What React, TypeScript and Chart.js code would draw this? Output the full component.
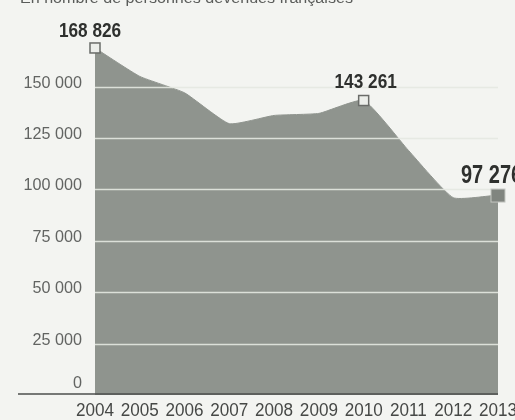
import React, { useEffect, useRef } from "react";
import { Chart, registerables } from "chart.js";

Chart.register(...registerables);

const title = "En nombre de personnes devenues françaises";
const years = ["2004", "2005", "2006", "2007", "2008", "2009", "2010", "2011", "2012", "2013"];
const naturalisations = [168826, 155000, 147000, 132000, 136000, 137000, 143261, 119000, 96000, 97276];
const yTicks = [0, 25000, 50000, 75000, 100000, 125000, 150000];
const yTickLabels = ["0", "25 000", "50 000", "75 000", "100 000", "125 000", "150 000"];
const calloutIndices = [0, 6, 9];
const calloutLabels = ["168 826", "143 261", "97 276"];

const REGULAR = '"Liberation Sans", Arial, sans-serif';

function condensedText(ctx: any, text: string, x: number, y: number, align: string, sx: number) {
  ctx.save();
  ctx.translate(x, y);
  ctx.scale(sx, 1);
  ctx.textAlign = align;
  ctx.fillText(text, 0, 0);
  ctx.restore();
}

const decorPlugin = {
  id: "decor",
  beforeDraw(chart: any) {
    const { ctx, width, height } = chart;
    ctx.save();
    ctx.fillStyle = "#f3f4f1";
    ctx.fillRect(0, 0, width, height);
    ctx.restore();
  },
  afterDatasetsDraw(chart: any) {
    const { ctx, chartArea } = chart;
    const xs = chart.scales.x;
    const ys = chart.scales.y;
    ctx.save();

    // gridlines over the area
    ctx.strokeStyle = "rgba(228,232,225,0.9)";
    ctx.lineWidth = 1.5;
    yTicks.forEach((v) => {
      if (v === 0) return;
      const y = Math.round(ys.getPixelForValue(v)) + 0.5;
      ctx.beginPath();
      ctx.moveTo(chartArea.left, y);
      ctx.lineTo(chartArea.right, y);
      ctx.stroke();
    });

    // baseline
    const y0 = ys.getPixelForValue(0) - 1;
    ctx.strokeStyle = "#4d4f4c";
    ctx.lineWidth = 1.6;
    ctx.beginPath();
    ctx.moveTo(18, y0);
    ctx.lineTo(chartArea.right, y0);
    ctx.stroke();

    // y labels
    ctx.font = "17px " + REGULAR;
    ctx.fillStyle = "#626462";
    ctx.textBaseline = "alphabetic";
    yTicks.forEach((v, i) => {
      const y = ys.getPixelForValue(v);
      condensedText(ctx, yTickLabels[i], 82, v === 0 ? y - 7 : y + 1, "right", 0.95);
    });

    // x labels
    ctx.font = "18px " + REGULAR;
    ctx.fillStyle = "#464846";
    years.forEach((yr, i) => {
      condensedText(ctx, yr, xs.getPixelForValue(i), 416, "center", 0.95);
    });

    // markers
    calloutIndices.forEach((idx, k) => {
      const px = xs.getPixelForValue(idx);
      const py = ys.getPixelForValue(naturalisations[idx]);
      if (k < 2) {
        ctx.fillStyle = "#eceeea";
        ctx.strokeStyle = "#6a6c69";
        ctx.lineWidth = 1.5;
        ctx.fillRect(px - 5, py - 5, 10, 10);
        ctx.strokeRect(px - 5, py - 5, 10, 10);
      } else {
        ctx.fillStyle = "#80857f";
        ctx.strokeStyle = "#c4c7c2";
        ctx.lineWidth = 1;
        ctx.fillRect(px - 7, py - 6, 14, 13);
        ctx.strokeRect(px - 7, py - 6, 14, 13);
      }
    });

    // callout labels
    ctx.fillStyle = "#2e302e";
    calloutIndices.forEach((idx, k) => {
      const px = xs.getPixelForValue(idx);
      const py = ys.getPixelForValue(naturalisations[idx]);
      if (k === 0) {
        ctx.font = "bold 21px " + REGULAR;
        condensedText(ctx, calloutLabels[k], px - 5, py - 11, "center", 0.82);
      } else if (k === 1) {
        ctx.font = "bold 21px " + REGULAR;
        condensedText(ctx, calloutLabels[k], px + 2, py - 13, "center", 0.82);
      } else {
        ctx.font = "bold 25px " + REGULAR;
        condensedText(ctx, calloutLabels[k], px - 37, py - 12, "left", 0.8);
      }
    });

    // title (cut off by top edge)
    ctx.font = "14px " + REGULAR;
    ctx.fillStyle = "#5a5c5a";
    condensedText(ctx, title, 20, 3, "left", 1.15);

    ctx.restore();
  },
};

export default function App() {
  const ref = useRef<HTMLCanvasElement | null>(null);

  useEffect(() => {
    if (!ref.current) return;
    const chart = new Chart(ref.current, {
      type: "line",
      data: {
        labels: years,
        datasets: [
          {
            data: naturalisations,
            fill: "origin",
            backgroundColor: "#8f948e",
            borderColor: "#8f948e",
            borderWidth: 1,
            pointRadius: 0,
            tension: 0.15,
          },
        ],
      },
      options: {
        animation: false,
        responsive: false,
        devicePixelRatio: 1,
        layout: { padding: { left: 95, right: 17, top: 25, bottom: 25 } },
        plugins: {
          legend: { display: false },
          tooltip: { enabled: false },
          title: { display: false },
        },
        scales: {
          x: { display: false, offset: false },
          y: { display: false, min: 0, max: 180000 },
        },
      },
      plugins: [decorPlugin],
    });
    return () => chart.destroy();
  }, []);

  return (
    <div style={{ position: "fixed", left: 0, top: 0, width: 515, height: 420, background: "#f3f4f1" }}>
      <canvas ref={ref} width={515} height={420} style={{ display: "block" }} />
    </div>
  );
}
